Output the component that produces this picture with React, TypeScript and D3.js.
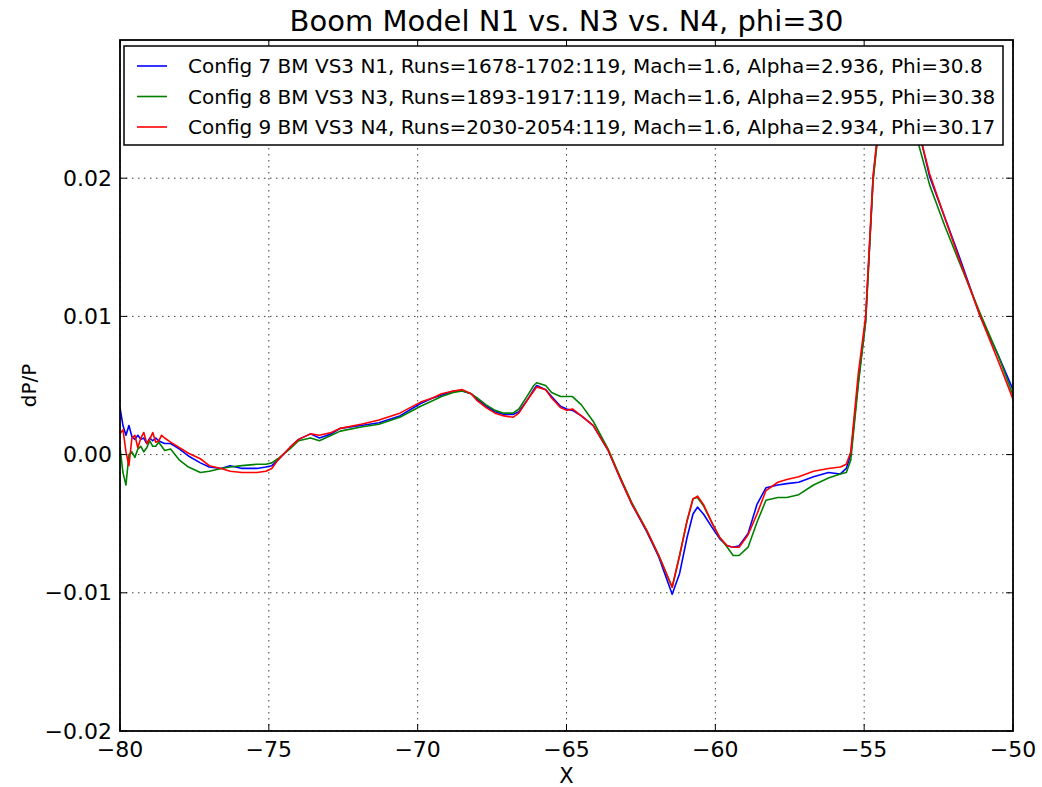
import React from 'react';
import * as d3 from 'd3';

const xs = [
  -80.0, -79.9, -79.8, -79.7, -79.6, -79.5, -79.4, -79.3, -79.2, -79.1,
  -79.0, -78.9, -78.8, -78.7, -78.6, -78.5, -78.3, -78.0, -77.7, -77.3,
  -77.0, -76.6, -76.3, -75.9, -75.4, -75.1, -74.9, -74.7, -74.3, -74.0,
  -73.6, -73.3, -72.9, -72.6, -71.9, -71.3, -70.6, -69.9, -69.5, -69.2,
  -68.8, -68.5, -68.2, -68.0, -67.7, -67.4, -67.1, -66.8, -66.6, -66.3,
  -66.1, -66.0, -65.7, -65.5, -65.2, -65.0, -64.8, -64.5, -64.1, -63.6,
  -63.2, -62.8, -62.3, -61.9, -61.45, -61.2, -60.95, -60.75, -60.6, -60.4,
  -60.1, -59.85, -59.6, -59.4, -59.2, -58.9, -58.6, -58.3, -57.9, -57.6,
  -57.2, -56.7, -56.2, -55.8, -55.6, -55.45, -55.2, -54.95, -54.7, -54.55,
  -54.2, -53.6, -53.05, -52.8, -52.3, -51.8, -51.1, -50.5, -50.0,
];

const n1 = [
  0.0034, 0.0021, 0.0014, 0.0021, 0.0013, 0.0011, 0.0014, 0.0011, 0.0012, 0.0008,
  0.0012, 0.0010, 0.0012, 0.0010, 0.0009, 0.0008, 0.0008, 0.0004, -0.0001, -0.0006,
  -0.0009, -0.0010, -0.0008, -0.0010, -0.0010, -0.0009, -0.0008, -0.0004, 0.0005, 0.0011,
  0.0015, 0.0012, 0.0015, 0.0019, 0.0021, 0.0023, 0.0028, 0.0037, 0.0041, 0.0043,
  0.0046, 0.0046, 0.0044, 0.0040, 0.0035, 0.0031, 0.0029, 0.0029, 0.0031, 0.0040,
  0.0047, 0.0050, 0.0047, 0.0042, 0.0035, 0.0033, 0.0032, 0.0028, 0.0021, 0.0003,
  -0.0017, -0.0036, -0.0056, -0.0074, -0.0101, -0.0086, -0.0060, -0.0043, -0.0038, -0.0043,
  -0.0053, -0.0061, -0.0066, -0.0067, -0.0066, -0.0057, -0.0036, -0.0024, -0.0022, -0.0021,
  -0.0020, -0.0016, -0.0013, -0.0014, -0.0010, 0.0000, 0.0052, 0.0097, 0.0200, 0.0230,
  0.0270, 0.0262, 0.0224, 0.0201, 0.0172, 0.0143, 0.0100, 0.0072, 0.0047,
];

const n3 = [
  0.0005, -0.0013, -0.0022, 0.0000, 0.0002, -0.0002, 0.0004, 0.0006, 0.0002, 0.0005,
  0.0010, 0.0006, 0.0006, 0.0009, 0.0006, 0.0003, 0.0004, -0.0004, -0.0009, -0.0013,
  -0.0012, -0.0010, -0.0009, -0.0008, -0.0007, -0.0007, -0.0006, -0.0003, 0.0004, 0.0010,
  0.0012, 0.0010, 0.0014, 0.0017, 0.0020, 0.0022, 0.0027, 0.0035, 0.0039, 0.0042,
  0.0045, 0.0046, 0.0044, 0.0041, 0.0036, 0.0032, 0.0030, 0.0030, 0.0033, 0.0043,
  0.0050, 0.0052, 0.0050, 0.0045, 0.0042, 0.0042, 0.0042, 0.0036, 0.0024, 0.0004,
  -0.0016, -0.0035, -0.0055, -0.0073, -0.0096, -0.0073, -0.0048, -0.0032, -0.0031, -0.0037,
  -0.0050, -0.0060, -0.0067, -0.0073, -0.0073, -0.0067, -0.0049, -0.0033, -0.0031, -0.0031,
  -0.0029, -0.0022, -0.0017, -0.0014, -0.0013, -0.0004, 0.0050, 0.0096, 0.0198, 0.0229,
  0.0268, 0.0258, 0.0215, 0.0195, 0.0166, 0.0139, 0.0102, 0.0072, 0.0043,
];

const n4 = [
  0.0015, 0.0018, 0.0002, -0.0008, 0.0012, 0.0014, 0.0005, 0.0012, 0.0016, 0.0008,
  0.0011, 0.0016, 0.0009, 0.0010, 0.0014, 0.0012, 0.0009, 0.0005, 0.0001, -0.0003,
  -0.0008, -0.0010, -0.0012, -0.0013, -0.0013, -0.0012, -0.0010, -0.0004, 0.0005, 0.0011,
  0.0015, 0.0014, 0.0016, 0.0019, 0.0022, 0.0025, 0.0030, 0.0038, 0.0041, 0.0044,
  0.0046, 0.0047, 0.0044, 0.0039, 0.0034, 0.0030, 0.0028, 0.0027, 0.0030, 0.0040,
  0.0046, 0.0049, 0.0047, 0.0041, 0.0034, 0.0032, 0.0033, 0.0028, 0.0021, 0.0003,
  -0.0017, -0.0036, -0.0055, -0.0073, -0.0096, -0.0073, -0.0048, -0.0032, -0.0030, -0.0036,
  -0.0050, -0.0060, -0.0066, -0.0067, -0.0067, -0.0058, -0.0043, -0.0026, -0.0020, -0.0018,
  -0.0016, -0.0012, -0.0010, -0.0009, -0.0007, 0.0002, 0.0058, 0.0100, 0.0202, 0.0232,
  0.0270, 0.0262, 0.0224, 0.0203, 0.0172, 0.0141, 0.0100, 0.0068, 0.0040,
];

const seriesLabels = [
  'Config 7 BM VS3 N1, Runs=1678-1702:119, Mach=1.6, Alpha=2.936, Phi=30.8',
  'Config 8 BM VS3 N3, Runs=1893-1917:119, Mach=1.6, Alpha=2.955, Phi=30.38',
  'Config 9 BM VS3 N4, Runs=2030-2054:119, Mach=1.6, Alpha=2.934, Phi=30.17',
];
const seriesColors = ['#0000ff', '#008000', '#ff0000'];
const xTicks = [-80, -75, -70, -65, -60, -55, -50];
const yTicks = [-0.02, -0.01, 0.0, 0.01, 0.02];

const W = 1042;
const H = 787;
const M = { left: 120, right: 1013, top: 40, bottom: 731 };
const FONT = 'DejaVu Sans, sans-serif';

export default function App() {
  const x = d3.scaleLinear().domain([-80, -50]).range([M.left, M.right]);
  const y = d3.scaleLinear().domain([-0.02, 0.03]).range([M.bottom, M.top]);
  const line = d3
    .line<[number, number]>()
    .x((d) => x(d[0]))
    .y((d) => y(d[1]));
  const series = [n1, n3, n4].map((vals) => vals.map((v, i) => [xs[i], v] as [number, number]));
  const fy = d3.format('.2f');
  const fx = d3.format('d');
  const tickLen = 7;

  return (
    <svg
      width={W}
      height={H}
      style={{ position: 'absolute', left: 0, top: 0, background: '#fff' }}
      fontFamily={FONT}
    >
      <defs>
        <clipPath id="plot">
          <rect x={M.left} y={M.top} width={M.right - M.left} height={M.bottom - M.top} />
        </clipPath>
      </defs>
      <rect x={0} y={0} width={W} height={H} fill="#fff" />
      <g stroke="#000" strokeWidth={1} strokeDasharray="1.5,4.5" opacity={0.75}>
        {xTicks.map((t) => (
          <line key={'gx' + t} x1={x(t)} x2={x(t)} y1={M.top} y2={M.bottom} />
        ))}
        {yTicks.map((t) => (
          <line key={'gy' + t} x1={M.left} x2={M.right} y1={y(t)} y2={y(t)} />
        ))}
      </g>
      <g clipPath="url(#plot)" fill="none" strokeWidth={1.6} strokeLinejoin="round">
        {series.map((s, i) => (
          <path key={i} d={line(s) || ''} stroke={seriesColors[i]} />
        ))}
      </g>
      <g stroke="#000" strokeWidth={1}>
        {xTicks.map((t) => (
          <g key={'tx' + t}>
            <line x1={x(t)} x2={x(t)} y1={M.bottom} y2={M.bottom - tickLen} />
            <line x1={x(t)} x2={x(t)} y1={M.top} y2={M.top + tickLen} />
          </g>
        ))}
        {yTicks.map((t) => (
          <g key={'ty' + t}>
            <line x1={M.left} x2={M.left + tickLen} y1={y(t)} y2={y(t)} />
            <line x1={M.right} x2={M.right - tickLen} y1={y(t)} y2={y(t)} />
          </g>
        ))}
      </g>
      <g>
        <rect x={124} y={46} width={879} height={99} fill="#fff" stroke="#000" strokeWidth={1.5} />
        {seriesLabels.map((lab, i) => {
          const ly = 66 + i * 30.5;
          return (
            <g key={'lg' + i}>
              <line x1={137} x2={167} y1={ly} y2={ly} stroke={seriesColors[i]} strokeWidth={1.6} />
              <text x={188} y={ly} dominantBaseline="central" fontSize={20} fill="#000">
                {lab}
              </text>
            </g>
          );
        })}
      </g>
      <rect
        x={M.left}
        y={M.top}
        width={M.right - M.left}
        height={M.bottom - M.top}
        fill="none"
        stroke="#000"
        strokeWidth={1.8}
      />
      <g fontSize={22} fill="#000">
        {xTicks.map((t) => (
          <text key={'lx' + t} x={x(t)} y={757} textAnchor="middle">
            {fx(t)}
          </text>
        ))}
        {yTicks.map((t) => (
          <text key={'ly' + t} x={M.left - 8} y={y(t)} textAnchor="end" dominantBaseline="central">
            {fy(t)}
          </text>
        ))}
      </g>
      <text x={(M.left + M.right) / 2} y={31} textAnchor="middle" fontSize={29} fill="#000">
        Boom Model N1 vs. N3 vs. N4, phi=30
      </text>
      <text x={(M.left + M.right) / 2} y={783} textAnchor="middle" fontSize={21} fill="#000">
        X
      </text>
      <text
        transform={`translate(29, ${(M.top + M.bottom) / 2}) rotate(-90)`}
        textAnchor="middle"
        dominantBaseline="central"
        fontSize={20}
        fill="#000"
      >
        dP/P
      </text>
    </svg>
  );
}
